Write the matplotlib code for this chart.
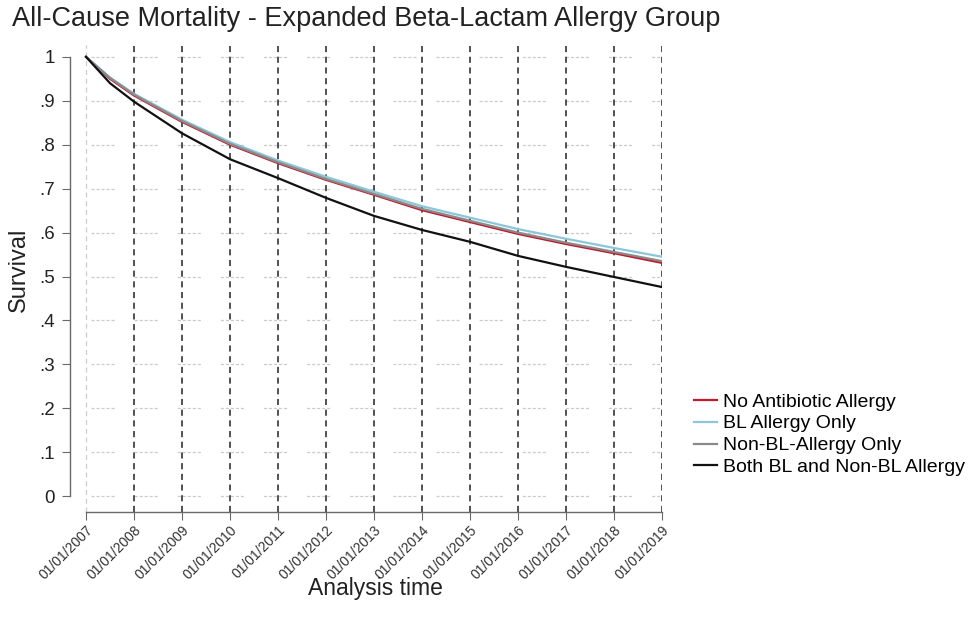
import datetime as dt
import matplotlib
matplotlib.use("Agg")
import matplotlib.pyplot as plt
import matplotlib.dates as mdates

# follow-up time in years from 01/01/2007
years = [0, 0.5, 1, 2, 3, 4, 5, 6, 7, 8, 9, 10, 11, 12]

no_allergy = [1.0, 0.950, 0.912, 0.852, 0.800, 0.758, 0.720, 0.686, 0.651, 0.624, 0.597, 0.574, 0.553, 0.531]
bl_only = [1.0, 0.953, 0.916, 0.857, 0.806, 0.764, 0.727, 0.693, 0.660, 0.634, 0.608, 0.586, 0.565, 0.545]
non_bl_only = [1.0, 0.952, 0.914, 0.854, 0.802, 0.760, 0.722, 0.688, 0.654, 0.627, 0.600, 0.577, 0.556, 0.535]
both = [1.0, 0.940, 0.898, 0.826, 0.767, 0.724, 0.679, 0.638, 0.606, 0.579, 0.547, 0.522, 0.499, 0.476]

series = [
    ("No Antibiotic Allergy", no_allergy, "#c01a2c"),
    ("BL Allergy Only", bl_only, "#8cc6da"),
    ("Non-BL-Allergy Only", non_bl_only, "#8a8a8a"),
    ("Both BL and Non-BL Allergy", both, "#111111"),
]

y_ticks = [0, 0.1, 0.2, 0.3, 0.4, 0.5, 0.6, 0.7, 0.8, 0.9, 1.0]
y_labels = ["0", ".1", ".2", ".3", ".4", ".5", ".6", ".7", ".8", ".9", "1"]

start = dt.datetime(2007, 1, 1)
dates = [start + dt.timedelta(days=365.25 * y) for y in years]
year_ticks = [dt.datetime(y, 1, 1) for y in range(2007, 2020)]

plt.rcParams["font.family"] = ["Liberation Sans", "DejaVu Sans"]

fig = plt.figure(figsize=(9.73, 6.23), dpi=100)
ax = fig.add_axes([70 / 973, 111 / 623, 592 / 973, 467 / 623])

x0 = mdates.date2num(start) - 122
x1 = mdates.date2num(year_ticks[-1])
ax.set_xlim(x0, x1)
ax.set_ylim(-0.036, 1.027)

# faint horizontal grid
for yv in y_ticks:
    ax.hlines(yv, mdates.date2num(start) + 40, x1, colors="#cccccc", linewidth=0.9,
              linestyles=(0, (2.5, 1.5, 2.5, 1.5, 2.5, 1.5, 2.5, 1.5, 2.5, 16)), zorder=1)

# yearly reference lines
ax.axvline(year_ticks[0], color="#cccccc", linewidth=0.9, linestyle=(0, (4, 3)), zorder=1)
for d in year_ticks[1:]:
    ax.axvline(d, color="#222222", linewidth=1.1, linestyle=(0, (4, 3)), zorder=2)

for name, vals, color in series:
    ax.plot(dates, vals, color=color, linewidth=1.6, label=name, zorder=3)

for s in ["top", "right"]:
    ax.spines[s].set_visible(False)
ax.spines["left"].set_bounds(0, 1)
ax.spines["bottom"].set_bounds(mdates.date2num(start), x1)
for s in ["left", "bottom"]:
    ax.spines[s].set_color("#6a6a6a")
    ax.spines[s].set_linewidth(1.0)

ax.set_yticks(y_ticks)
ax.set_yticklabels(y_labels, fontsize=13.5)
ax.set_xticks(year_ticks)
ax.xaxis.set_major_formatter(mdates.DateFormatter("%m/%d/%Y"))
ax.tick_params(axis="y", length=6, color="#6a6a6a", labelcolor="#222222", pad=5)
ax.tick_params(axis="x", length=6, color="#6a6a6a", labelcolor="#333333", labelsize=10, pad=2)
for lbl in ax.get_xticklabels():
    lbl.set_rotation(45)
    lbl.set_ha("right")
    lbl.set_rotation_mode("anchor")

ax.set_ylabel("Survival", fontsize=17, color="#222222")
ax.yaxis.set_label_coords(-40 / 592, 0.518)
fig.text(375 / 973, 1 - 588 / 623, "Analysis time", fontsize=16.5, color="#222222",
         ha="center", va="center")
fig.text(12 / 973, 1 - 19 / 623, "All-Cause Mortality - Expanded Beta-Lactam Allergy Group",
         fontsize=19.5, color="#222222", ha="left", va="center")

fig.legend(loc="upper left", bbox_to_anchor=(694 / 973, 1 - 393 / 623), frameon=False,
           fontsize=14, handlelength=1.2, handletextpad=0.3, labelspacing=0.22,
           borderaxespad=0, borderpad=0)

fig.savefig("out.png", dpi=100)
